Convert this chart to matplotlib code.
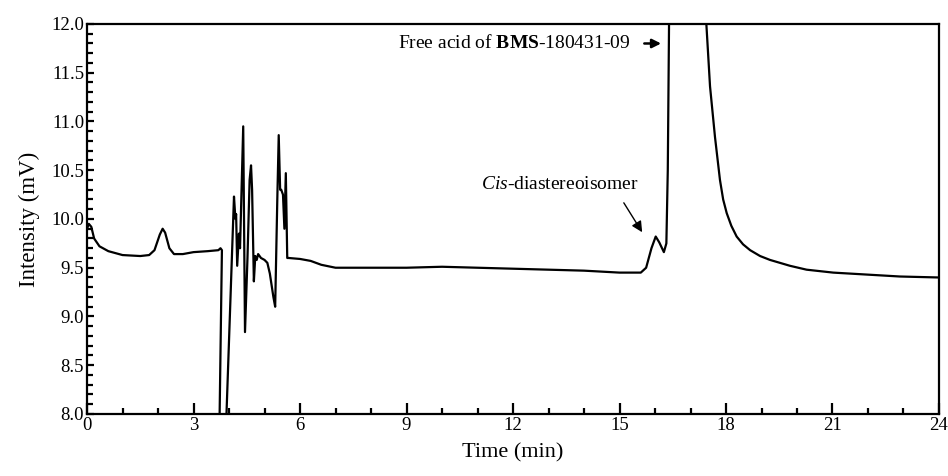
import numpy as np
import matplotlib
matplotlib.use("Agg")
import matplotlib.pyplot as plt
from matplotlib.ticker import MultipleLocator

plt.rcParams['font.family'] = ['Liberation Serif', 'DejaVu Serif']
plt.rcParams['mathtext.fontset'] = 'custom'
plt.rcParams['mathtext.rm'] = 'Liberation Serif'
plt.rcParams['mathtext.it'] = 'Liberation Serif:italic'
plt.rcParams['mathtext.bf'] = 'Liberation Serif:bold'

# chromatogram trace (time in min, intensity in mV)
time = [0.00, 0.05, 0.12, 0.20, 0.35, 0.60, 1.00, 1.50, 1.75, 1.90, 2.05, 2.13, 2.20,
        2.32, 2.45, 2.70, 3.00, 3.40, 3.70, 3.76, 3.80, 3.72, 3.82, 3.90, 4.14, 4.18,
        4.20, 4.23, 4.28, 4.31, 4.40, 4.45, 4.52, 4.58, 4.62, 4.65, 4.70, 4.74, 4.78,
        4.82, 4.90, 5.00, 5.08, 5.15, 5.25, 5.30, 5.36, 5.40, 5.44, 5.47, 5.52, 5.56,
        5.60, 5.64, 5.68, 6.00, 6.30, 6.60, 7.00, 8.00, 9.00, 10.00, 11.00, 12.00,
        13.00, 14.00, 15.00, 15.60, 15.75, 15.90, 16.02, 16.12, 16.25, 16.32, 16.36,
        16.40, 16.45, 17.30, 17.44, 17.55, 17.69, 17.83, 17.92, 18.02, 18.15, 18.30,
        18.48, 18.68, 18.96, 19.24, 19.80, 20.27, 21.02, 21.96, 22.90, 24.00]
intensity = [9.90, 9.95, 9.92, 9.80, 9.72, 9.67, 9.63, 9.62, 9.63, 9.68, 9.84, 9.90, 9.86,
             9.70, 9.64, 9.64, 9.66, 9.67, 9.68, 9.70, 9.68, 7.60, 7.50, 7.70, 10.23, 10.00,
             10.05, 9.52, 9.85, 9.70, 10.95, 8.84, 9.60, 10.40, 10.55, 10.30, 9.36, 9.62, 9.58,
             9.64, 9.60, 9.58, 9.55, 9.44, 9.20, 9.10, 10.20, 10.86, 10.30, 10.30, 10.25, 9.90,
             10.47, 9.60, 9.60, 9.59, 9.57, 9.53, 9.50, 9.50, 9.50, 9.51, 9.50, 9.49,
             9.48, 9.47, 9.45, 9.45, 9.50, 9.70, 9.82, 9.76, 9.66, 9.75, 10.50,
             12.20, 13.50, 13.50, 12.04, 11.36, 10.84, 10.40, 10.20, 10.06, 9.93, 9.82,
             9.74, 9.68, 9.62, 9.58, 9.52, 9.48, 9.45, 9.43, 9.41, 9.40]

xticks = [0, 3, 6, 9, 12, 15, 18, 21, 24]
yticks = [8.0, 8.5, 9.0, 9.5, 10.0, 10.5, 11.0, 11.5, 12.0]

fig = plt.figure(figsize=(9.48, 4.76), dpi=100)
ax = fig.add_axes([0.0918, 0.1303, 0.8987, 0.8193])

ax.plot(time, intensity, color='black', linewidth=1.6)

ax.set_xlim(0, 24)
ax.set_ylim(8, 12)
ax.set_xticks(xticks)
ax.set_xticklabels([str(t) for t in xticks])
ax.set_yticks(yticks)
ax.set_yticklabels([f"{v:.1f}" for v in yticks])
ax.xaxis.set_minor_locator(MultipleLocator(1))
ax.yaxis.set_minor_locator(MultipleLocator(0.1))
ax.tick_params(which='both', direction='in', top=False, right=False, width=1.6,
               labelsize=13.5, pad=2)
ax.tick_params(which='major', length=8)
ax.tick_params(which='minor', length=4)
ax.tick_params(axis='y', which='major', length=5)
for s in ax.spines.values():
    s.set_linewidth(1.6)

ax.set_xlabel('Time (min)', fontsize=16, labelpad=7)
ax.set_ylabel('Intensity (mV)', fontsize=16.5, labelpad=8)

# annotations
ax.text(15.30, 11.80, r'Free acid of $\mathbf{BMS}$-180431-09', fontsize=14,
        ha='right', va='center')
ax.annotate('', xy=(16.25, 11.80), xytext=(15.62, 11.80),
            arrowprops=dict(arrowstyle='-|>', color='black', lw=1.8,
                            mutation_scale=13))
ax.text(15.55, 10.35, r'$\mathit{Cis}$-diastereoisomer', fontsize=14,
        ha='right', va='center')
ax.annotate('', xy=(15.68, 9.84), xytext=(15.08, 10.19),
            arrowprops=dict(arrowstyle='-|>', color='black', lw=1.0,
                            mutation_scale=16))

fig.savefig('out.png', dpi=100)
